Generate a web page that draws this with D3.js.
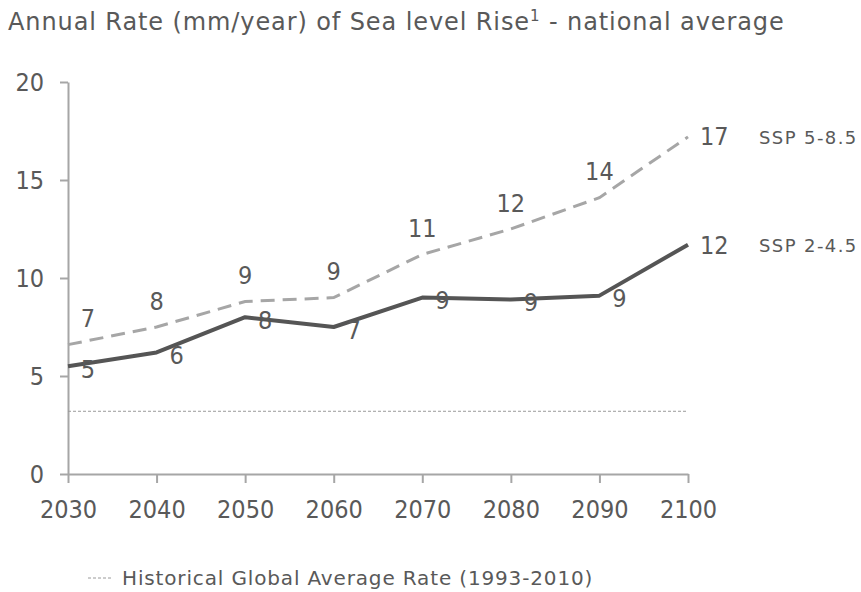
<!DOCTYPE html>
<html>
<head>
<meta charset="utf-8">
<script src="https://cdn.jsdelivr.net/npm/d3@7"></script>
<style>
  html, body { margin: 0; padding: 0; background: #fff; }
  svg text { font-family: "DejaVu Sans Condensed", "DejaVu Sans", sans-serif; font-stretch: condensed; fill: #595959; }
  svg text.wide { font-family: "DejaVu Sans", sans-serif; font-stretch: normal; }
</style>
</head>
<body>
<svg id="chart" width="861" height="592"></svg>
<script>
const years = [2030, 2040, 2050, 2060, 2070, 2080, 2090, 2100];
const ssp585 = [6.6, 7.5, 8.8, 9.0, 11.2, 12.5, 14.1, 17.2];
const ssp245 = [5.5, 6.2, 8.0, 7.5, 9.0, 8.9, 9.1, 11.7];
const ssp585Labels = ["7", "8", "9", "9", "11", "12", "14", "17"];
const ssp245Labels = ["5", "6", "8", "7", "9", "9", "9", "12"];
const historical = 3.2;
const yTicks = [0, 5, 10, 15, 20];
const seriesNames = ["SSP 5-8.5", "SSP 2-4.5"];
const titleText = "Annual Rate (mm/year) of Sea level Rise";
const legendText = "Historical Global Average Rate (1993-2010)";

const svg = d3.select("#chart");
const x = d3.scaleLinear().domain([2030, 2100]).range([68, 688]);
const y = d3.scaleLinear().domain([0, 20]).range([474, 82]);

// title
const title = svg.append("text").attr("class", "wide").attr("x", 8).attr("y", 30)
  .style("font-size", "24px").style("letter-spacing", "0.9px");
title.append("tspan").text(titleText);
title.append("tspan").attr("dy", -9).style("font-size", "15px").text("1");
title.append("tspan").attr("dy", 9).text(" - national average");

// axes
const yAxis = svg.append("g").attr("transform", "translate(68,0)")
  .call(d3.axisLeft(y).tickValues(yTicks).tickSize(8).tickPadding(16).tickSizeOuter(0));
const xAxis = svg.append("g").attr("transform", "translate(0,474)")
  .call(d3.axisBottom(x).tickValues(years).tickFormat(d3.format("d")).tickSize(9).tickPadding(17).tickSizeOuter(0));
[yAxis, xAxis].forEach(g => {
  g.select(".domain").attr("stroke", "#a6a6a6").attr("stroke-width", 2);
  g.selectAll(".tick line").attr("stroke", "#a6a6a6").attr("stroke-width", 2);
  g.selectAll(".tick text").style("font-size", "25px").attr("fill", "#595959");
});

// historical
svg.append("line")
  .attr("x1", x(2030)).attr("x2", x(2100))
  .attr("y1", y(historical)).attr("y2", y(historical))
  .attr("stroke", "#9a9a9a").attr("stroke-width", 1).attr("stroke-dasharray", "3,2");

const line = d3.line().x((d, i) => x(years[i])).y(d => y(d));

svg.append("path").datum(ssp585).attr("d", line)
  .attr("fill", "none").attr("stroke", "#a6a6a6").attr("stroke-width", 3)
  .attr("stroke-dasharray", "14,8");
svg.append("path").datum(ssp245).attr("d", line)
  .attr("fill", "none").attr("stroke", "#555555").attr("stroke-width", 4)
  .attr("stroke-linejoin", "round");

// labels SSP5-8.5
svg.selectAll(".l585").data(ssp585).enter().append("text")
  .attr("x", (d, i) => i === 0 ? x(years[i]) + 20 : (i === years.length - 1 ? x(years[i]) + 12 : x(years[i])))
  .attr("y", (d, i) => i === years.length - 1 ? y(d) : y(d) - 26)
  .attr("text-anchor", (d, i) => i === years.length - 1 ? "start" : "middle")
  .attr("dominant-baseline", "central")
  .style("font-size", "25px")
  .text((d, i) => ssp585Labels[i]);

svg.selectAll(".l245").data(ssp245).enter().append("text")
  .attr("x", (d, i) => i === years.length - 1 ? x(years[i]) + 12 : x(years[i]) + 20)
  .attr("y", (d, i) => i === years.length - 1 ? y(d) + 1 : y(d) + 3)
  .attr("text-anchor", (d, i) => i === years.length - 1 ? "start" : "middle")
  .attr("dominant-baseline", "central")
  .style("font-size", "25px")
  .text((d, i) => ssp245Labels[i]);

// series names
[ssp585, ssp245].forEach((s, k) => {
  svg.append("text").attr("class", "wide").attr("x", 759).attr("y", y(s[s.length - 1]) + 1)
    .attr("dominant-baseline", "central").style("font-size", "18px").style("letter-spacing", "1.4px")
    .text(seriesNames[k]);
});

// legend
svg.append("line").attr("x1", 88).attr("x2", 112).attr("y1", 578).attr("y2", 578)
  .attr("stroke", "#9a9a9a").attr("stroke-width", 1).attr("stroke-dasharray", "3,2");
svg.append("text").attr("class", "wide").attr("x", 122).attr("y", 578).attr("dominant-baseline", "central")
  .style("font-size", "20px").style("letter-spacing", "0.85px").text(legendText);
</script>
</body>
</html>
